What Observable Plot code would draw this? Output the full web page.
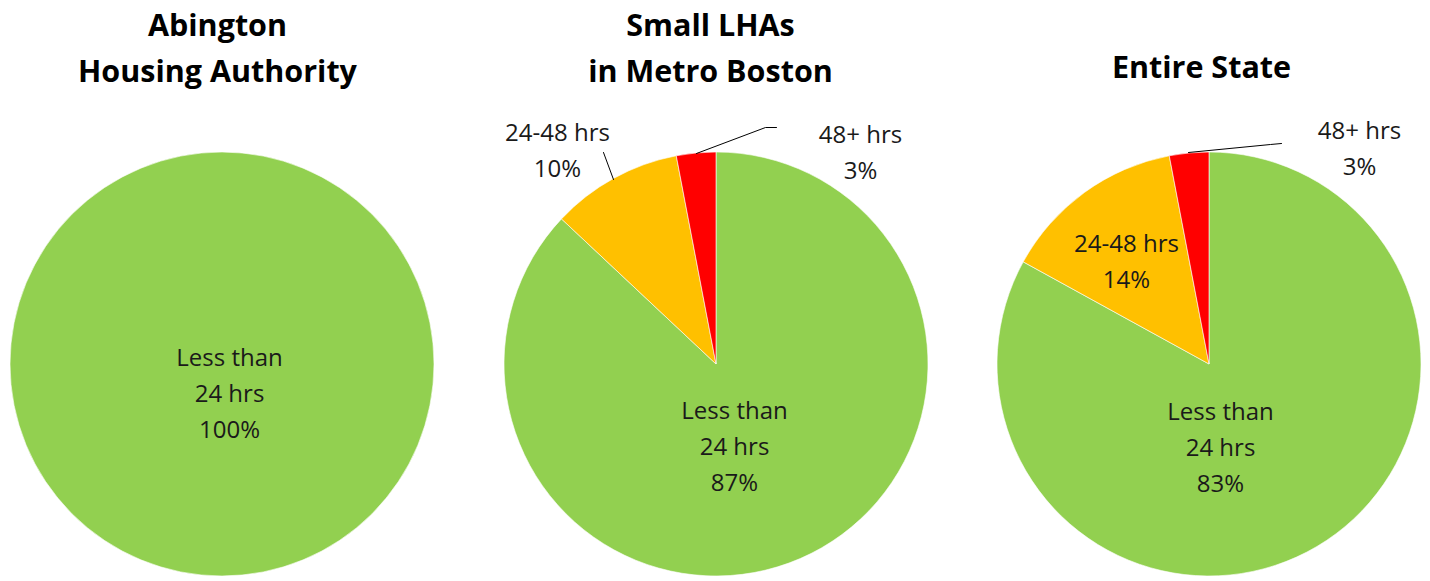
<!DOCTYPE html>
<html>
<head>
<meta charset="utf-8">
<script src="https://cdn.jsdelivr.net/npm/d3@7"></script>
<script src="https://cdn.jsdelivr.net/npm/@observablehq/plot@0.6"></script>
<style>
  html, body { margin: 0; padding: 0; background: #fff; }
  #chart svg { display: block; }
</style>
</head>
<body>
<div id="chart"></div>
<script>
// ---- Data ----
const panels = ["Abington\nHousing Authority", "Small LHAs\nin Metro Boston", "Entire State"];
const categories = ["Less than\n24 hrs", "24-48 hrs", "48+ hrs"];
const abington = [100, 0, 0];
const smallLHAs = [87, 10, 3];
const entireState = [83, 14, 3];
const seriesByPanel = [abington, smallLHAs, entireState];
const colors = ["#92D050", "#FFC000", "#FF0000"];

// ---- Layout (positions, not data) ----
const W = 1430, H = 581;
const R = 212;
const centers = [[222, 364], [716, 364], [1209, 364]];
const titlePos = [[217, 44], [710, 44], [1201, 63]];
// label block centers (absolute) per panel per category; null => no label
const labelPos = [
  [[229, 390], null, null],
  [[734, 443], [557, 147], [860, 149]],
  [[1220, 444], [1126, 258], [1359, 145]]
];
// leader lines
const leaders = [
  {pts: [[603, 152], [613, 179]]},
  {pts: [[696, 153], [765, 127], [776, 127]]},
  {pts: [[1188, 152], [1270, 144], [1281, 143]]}
];

// ---- Build tables ----
const pie = d3.pie().sort(null).value(d => d.value);
const slices = [];
const labels = [];
panels.forEach((p, i) => {
  const rows = categories.map((c, j) => ({panel: i, category: c, value: seriesByPanel[i][j], color: colors[j]}));
  pie(rows).forEach(a => { if (a.data.value > 0) slices.push({...a, cx: centers[i][0], cy: centers[i][1]}); });
  rows.forEach((r, j) => {
    const pos = labelPos[i][j];
    if (r.value > 0 && pos) labels.push({x: pos[0], y: pos[1], text: `${r.category}\n${r.value}%`});
  });
});
const titles = panels.map((t, i) => ({x: titlePos[i][0], y: titlePos[i][1], text: t}));
const leaderRows = [];
leaders.forEach((l, k) => l.pts.forEach(p => leaderRows.push({k, x: p[0], y: p[1]})));

const arc = d3.arc().innerRadius(0).outerRadius(R);

// custom pie-slice mark using Plot's x/y scales
function pieSlices(index, scales) {
  const g = d3.create("svg:g");
  g.selectAll("path").data(slices).join("path")
    .attr("transform", d => `translate(${scales.x(d.cx)},${scales.y(d.cy)})`)
    .attr("d", d => arc(d))
    .attr("fill", d => d.data.color)
    .attr("stroke", "#ffffff")
    .attr("stroke-width", 0.6)
    .attr("stroke-linejoin", "round");
  return g.node();
}

const chart = Plot.plot({
  width: W,
  height: H,
  margin: 0,
  x: {domain: [0, W], range: [0, W], axis: null},
  y: {domain: [0, H], range: [0, H], axis: null},
  style: {background: "#fff"},
  marks: [
    pieSlices,
    Plot.line(leaderRows, {x: "x", y: "y", z: "k", stroke: "#000", strokeWidth: 1}),
    Plot.text(titles, {x: "x", y: "y", text: "text", fontSize: 30.5, fontWeight: "bold",
      fontFamily: "Open Sans", lineHeight: 1.48, fill: "#000"}),
    Plot.text(labels, {x: "x", y: "y", text: "text", fontSize: 24, fontFamily: "Open Sans",
      lineHeight: 1.5, fill: "#1a1a1a"})
  ]
});
document.getElementById("chart").appendChild(chart);
</script>
</body>
</html>
